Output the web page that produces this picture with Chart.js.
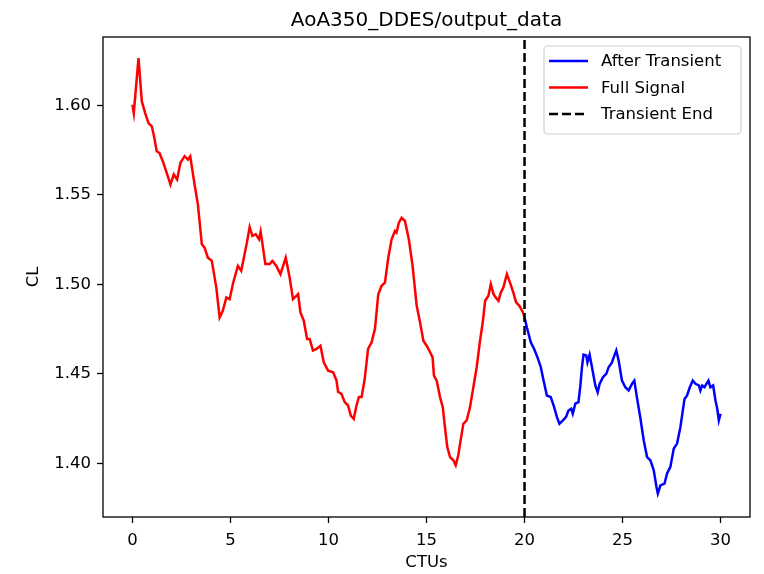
<!DOCTYPE html>
<html>
<head>
<meta charset="utf-8">
<script src="https://cdn.jsdelivr.net/npm/chart.js@4"></script>
<style>
  html, body { margin: 0; padding: 0; background: #fff; }
  #wrap { width: 764px; height: 574px; position: relative; }
</style>
</head>
<body>
<div id="wrap"><canvas id="clChart"></canvas></div>
<script>
// CL history, red part = full signal up to the transient end
const fullX = [0.00, 0.07, 0.31, 0.48, 0.65, 0.82, 0.99, 1.12, 1.24, 1.38, 1.55, 1.72, 1.94, 2.11, 2.28, 2.45, 2.66, 2.83, 2.95, 3.17,
  3.34, 3.54, 3.68, 3.85, 4.05, 4.28, 4.45, 4.61, 4.79, 4.96, 5.13, 5.38, 5.55, 5.72, 5.84, 5.98, 6.12, 6.29, 6.46, 6.54,
  6.66, 6.78, 7.00, 7.14, 7.34, 7.55, 7.82, 8.02, 8.19, 8.45, 8.57, 8.74, 8.91, 9.04, 9.21, 9.39, 9.59, 9.76, 9.98, 10.24,
  10.41, 10.49, 10.66, 10.83, 11.00, 11.14, 11.29, 11.43, 11.55, 11.69, 11.85, 12.02, 12.20, 12.37, 12.54, 12.71, 12.88, 13.05, 13.22, 13.39,
  13.47, 13.59, 13.73, 13.90, 14.10, 14.29, 14.50, 14.67, 14.84, 15.01, 15.23, 15.31, 15.38, 15.52, 15.69, 15.83, 15.94, 16.06, 16.20, 16.37,
  16.49, 16.62, 16.74, 16.88, 17.05, 17.22, 17.39, 17.56, 17.73, 17.87, 17.99, 18.16, 18.28, 18.42, 18.53, 18.67, 18.79, 18.92, 19.10, 19.26,
  19.43, 19.57, 19.74, 19.92, 20.00];
const fullCL = [1.6004, 1.5957, 1.6264, 1.6022, 1.5957, 1.5901, 1.5883, 1.5818, 1.5744, 1.5734, 1.5688, 1.5632, 1.5558, 1.5614, 1.5586, 1.5679, 1.5716, 1.5697, 1.5716, 1.5558,
  1.5447, 1.5224, 1.5205, 1.5149, 1.5131, 1.4982, 1.4815, 1.4852, 1.4926, 1.4917, 1.5005, 1.5103, 1.5075, 1.5168, 1.5233, 1.5320, 1.5270, 1.5280, 1.5252, 1.5294,
  1.5205, 1.5113, 1.5113, 1.5131, 1.5103, 1.5057, 1.5149, 1.5038, 1.4917, 1.4945, 1.4843, 1.4797, 1.4695, 1.4695, 1.4630, 1.4639, 1.4657, 1.4564, 1.4518, 1.4509,
  1.4462, 1.4400, 1.4388, 1.4342, 1.4323, 1.4267, 1.4249, 1.4323, 1.4370, 1.4370, 1.4472, 1.4639, 1.4676, 1.4750, 1.4945, 1.4992, 1.5010, 1.5149, 1.5252, 1.5298,
  1.5289, 1.5345, 1.5372, 1.5354, 1.5252, 1.5103, 1.4880, 1.4788, 1.4685, 1.4657, 1.4611, 1.4592, 1.4490, 1.4462, 1.4370, 1.4314, 1.4202, 1.4091, 1.4035, 1.4017,
  1.3989, 1.4045, 1.4128, 1.4221, 1.4240, 1.4314, 1.4425, 1.4537, 1.4685, 1.4788, 1.4908, 1.4936, 1.5001, 1.4945, 1.4926, 1.4908, 1.4954, 1.4982, 1.5057, 1.5010,
  1.4954, 1.4899, 1.4880, 1.4843, 1.4815];

// blue part = after transient
const afterX = [20.00, 20.12, 20.32, 20.49, 20.66, 20.83, 20.97, 21.14, 21.34, 21.51, 21.65, 21.78, 21.96, 22.12, 22.24, 22.38, 22.46, 22.59, 22.75, 22.84,
  22.93, 23.01, 23.15, 23.21, 23.32, 23.44, 23.61, 23.73, 23.83, 24.00, 24.17, 24.29, 24.46, 24.58, 24.68, 24.80, 24.97, 25.14, 25.31, 25.48,
  25.60, 25.73, 25.90, 26.08, 26.25, 26.42, 26.59, 26.73, 26.80, 26.93, 27.14, 27.27, 27.44, 27.61, 27.78, 27.95, 28.16, 28.29, 28.43, 28.58,
  28.72, 28.89, 28.97, 29.06, 29.18, 29.28, 29.38, 29.48, 29.62, 29.74, 29.83, 29.91, 30.00];
const afterCL = [1.4815, 1.4759, 1.4676, 1.4639, 1.4592, 1.4537, 1.4462, 1.4379, 1.4370, 1.4314, 1.4259, 1.4221, 1.4240, 1.4259, 1.4295, 1.4305, 1.4277, 1.4333, 1.4342, 1.4425,
  1.4537, 1.4607, 1.4602, 1.4564, 1.4607, 1.4537, 1.4435, 1.4397, 1.4444, 1.4481, 1.4500, 1.4537, 1.4564, 1.4602, 1.4630, 1.4574, 1.4462, 1.4425, 1.4407, 1.4444,
  1.4462, 1.4370, 1.4259, 1.4128, 1.4035, 1.4017, 1.3961, 1.3868, 1.3831, 1.3877, 1.3887, 1.3943, 1.3980, 1.4082, 1.4110, 1.4202, 1.4360, 1.4379, 1.4425, 1.4462,
  1.4444, 1.4435, 1.4407, 1.4435, 1.4425, 1.4444, 1.4462, 1.4425, 1.4435, 1.4351, 1.4305, 1.4240, 1.4277];

const transientEnd = 20;
const xTicks = [0, 5, 10, 15, 20, 25, 30];
const yTicks = [1.40, 1.45, 1.50, 1.55, 1.60];
const xRange = [-1.5, 31.5];
const yRange = [1.3700, 1.6382];

const titleText = "AoA350_DDES/output_data";
const FONT = '"DejaVu Sans", sans-serif';

function toPoints(xs, ys) {
    return xs.map((x, i) => ({x: x, y: ys[i]}));
}

// axes box, title and the legend inside the plot
const framePlugin = {
    id: "frame",
    afterDraw(chart) {
        const {ctx, chartArea: a} = chart;
        ctx.save();
        ctx.strokeStyle = "#000";
        ctx.lineWidth = 1.3;
        ctx.strokeRect(a.left, a.top, a.right - a.left, a.bottom - a.top);

        ctx.fillStyle = "#000";
        ctx.font = "20px " + FONT;
        ctx.textAlign = "center";
        ctx.textBaseline = "alphabetic";
        ctx.fillText(titleText, (a.left + a.right) / 2, a.top - 11);

        // legend
        const bw = 197, bh = 88;
        const bx = a.right - 9 - bw, by = a.top + 9;
        ctx.beginPath();
        ctx.roundRect(bx, by, bw, bh, 4);
        ctx.fillStyle = "rgba(255,255,255,0.8)";
        ctx.fill();
        ctx.strokeStyle = "#d0d0d0";
        ctx.lineWidth = 1.2;
        ctx.stroke();

        const order = ["After Transient", "Full Signal", "Transient End"];
        ctx.font = "16.5px " + FONT;
        ctx.textAlign = "left";
        ctx.textBaseline = "middle";
        order.forEach((label, i) => {
            const ds = chart.data.datasets.find(d => d.label === label);
            const y = by + 15 + i * 26.5;
            ctx.beginPath();
            ctx.setLineDash(ds.borderDash || []);
            ctx.strokeStyle = ds.borderColor;
            ctx.lineWidth = ds.borderWidth;
            ctx.moveTo(bx + 5, y);
            ctx.lineTo(bx + 44, y);
            ctx.stroke();
            ctx.setLineDash([]);
            ctx.fillStyle = "#000";
            ctx.fillText(label, bx + 57, y + 1);
        });
        ctx.restore();
    }
};

new Chart("clChart", {
    type: "scatter",
    data: {
        datasets: [{
            label: "Transient End",
            data: toPoints([transientEnd, transientEnd], yRange),
            borderColor: "#000",
            borderWidth: 2.5,
            borderDash: [9, 4],
            showLine: true,
            pointRadius: 0
        }, {
            label: "After Transient",
            data: toPoints(afterX, afterCL),
            borderColor: "#0000ff",
            borderWidth: 2.5,
            showLine: true,
            pointRadius: 0
        }, {
            label: "Full Signal",
            data: toPoints(fullX, fullCL),
            borderColor: "#ff0000",
            borderWidth: 2.5,
            showLine: true,
            pointRadius: 0
        }]
    },
    options: {
        responsive: true,
        maintainAspectRatio: false,
        animation: false,
        layout: {padding: {top: 37, right: 14, left: 0, bottom: 0}},
        plugins: {
            legend: {display: false},
            tooltip: {enabled: false}
        },
        scales: {
            x: {
                type: "linear",
                min: xRange[0],
                max: xRange[1],
                afterBuildTicks: s => { s.ticks = xTicks.map(v => ({value: v})); },
                afterFit: s => { s.height = 57; },
                grid: {drawOnChartArea: false, drawTicks: true, tickLength: 6, tickColor: "#000", tickWidth: 1.3},
                border: {display: false},
                ticks: {color: "#000", font: {family: FONT, size: 16.5}, padding: 8, maxRotation: 0},
                title: {display: true, text: "CTUs", color: "#000", font: {family: FONT, size: 16.5}, padding: {top: 0, bottom: 1}}
            },
            y: {
                type: "linear",
                min: yRange[0],
                max: yRange[1],
                afterBuildTicks: s => { s.ticks = yTicks.map(v => ({value: v})); },
                afterFit: s => { s.width = 103; },
                grid: {drawOnChartArea: false, drawTicks: true, tickLength: 6, tickColor: "#000", tickWidth: 1.3},
                border: {display: false},
                ticks: {color: "#000", font: {family: FONT, size: 16.5}, padding: 6, callback: v => v.toFixed(2)},
                title: {display: true, text: "CL", color: "#000", font: {family: FONT, size: 16.5}, padding: {top: 24, bottom: 0}}
            }
        }
    },
    plugins: [framePlugin]
});
</script>
</body>
</html>
